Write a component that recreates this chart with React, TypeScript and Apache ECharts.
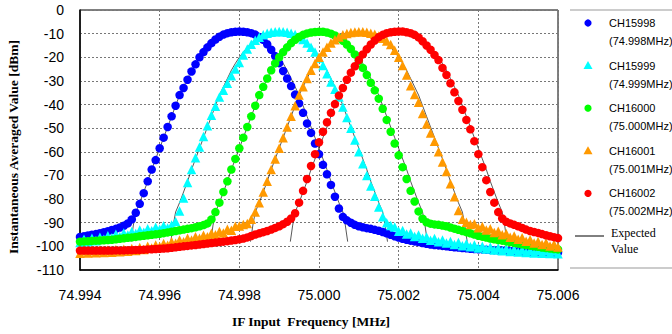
import { useEffect, useRef } from "react";
import * as echarts from "echarts";

// sample grid of the measurement (kHz)
const freqStartKHz = 74994;
const freqStepKHz = 0.1;

const channelNames = ["CH15998", "CH15999", "CH16000", "CH16001", "CH16002"];
const channelFreqLabels = ["(74.998MHz)", "(74.999MHz)", "(75.000MHz)", "(75.001MHz)", "(75.002MHz)"];
const channelCentersKHz = [74998, 74999, 75000, 75001, 75002];
const channelColors = ["#0000ff", "#00ffff", "#00ff00", "#ff9900", "#ff0000"];
const channelSymbols = ["circle", "triangle", "circle", "triangle", "circle"];

const ch15998 = [
  -96.0, -95.7, -95.4, -95.1, -94.8, -94.4, -94.0, -93.6, -93.1, -92.6,
  -92.0, -91.3, -90.3, -88.6, -85.8, -82.0, -77.5, -72.5, -67.5, -63.5,
  -58.5, -54.0, -49.5, -45.0, -40.5, -36.0, -33.0, -29.5, -26.0, -23.0,
  -20.0, -17.8, -15.8, -14.0, -12.5, -11.3, -10.4, -9.8, -9.4, -9.2,
  -9.1, -9.2, -9.4, -9.8, -10.4, -11.4, -12.6, -14.5, -16.8, -19.5,
  -22.5, -25.8, -29.0, -32.2, -35.8, -39.5, -43.5, -48.0, -52.0, -56.5,
  -61.0, -65.5, -69.5, -74.0, -79.0, -84.0, -87.5, -89.0, -90.0, -90.9,
  -91.5, -91.9, -92.3, -92.6, -93.0, -93.4, -93.9, -94.5, -95.1, -95.7,
  -96.3, -96.8, -97.2, -97.6, -97.9, -98.2, -98.6, -98.9, -99.2, -99.4,
  -99.6, -99.8, -100.0, -100.2, -100.4, -100.5, -100.7, -100.8, -101.0, -101.1,
  -101.2, -101.3, -101.4, -101.5, -101.6, -101.7, -101.8, -101.9, -102.0, -102.0,
  -102.1, -102.2, -102.2, -102.3, -102.3, -102.4, -102.4, -102.5, -102.5, -102.6,
  -102.6,
];

const ch15999 = [
  -98.4, -97.0, -98.0, -96.6, -97.6, -96.1, -97.0, -95.5, -96.4, -94.9,
  -95.8, -94.3, -95.2, -93.7, -94.6, -93.1, -94.0, -92.5, -93.4, -91.9,
  -92.8, -91.3, -92.2, -91.0, -89.5, -85.0, -79.5, -73.0, -67.5, -62.5,
  -58.0, -53.5, -49.0, -44.5, -40.7, -36.8, -34.0, -31.0, -27.8, -25.0,
  -22.2, -19.0, -16.5, -14.5, -12.8, -11.5, -10.5, -9.8, -9.4, -9.2,
  -9.1, -9.2, -9.4, -9.8, -10.4, -11.3, -12.5, -14.0, -15.8, -17.8,
  -20.3, -23.5, -27.0, -30.5, -33.5, -36.8, -41.0, -45.5, -50.0, -55.0,
  -60.0, -65.0, -70.0, -74.5, -78.8, -83.3, -87.5, -90.0, -91.2, -91.8,
  -93.6, -93.3, -94.8, -94.3, -95.8, -95.2, -96.6, -96.0, -97.4, -96.7,
  -98.0, -97.3, -98.6, -97.9, -99.2, -98.4, -99.7, -98.9, -100.2, -99.4,
  -100.7, -99.9, -101.1, -100.3, -101.5, -100.7, -101.9, -101.0, -102.2, -101.3,
  -102.4, -101.5, -102.6, -101.7, -102.8, -101.8, -102.9, -101.9, -103.0, -102.0,
  -103.1,
];

const ch16000 = [
  -98.0, -97.9, -97.8, -97.7, -97.6, -97.5, -97.4, -97.3, -97.2, -97.0,
  -96.8, -96.6, -96.4, -96.2, -96.0, -95.7, -95.5, -95.3, -95.1, -94.9,
  -94.7, -94.4, -94.1, -93.8, -93.5, -93.2, -92.9, -92.6, -92.3, -91.9,
  -91.5, -91.0, -90.3, -88.6, -85.5, -81.5, -77.0, -72.5, -67.5, -63.0,
  -58.5, -54.0, -49.5, -45.0, -40.5, -36.0, -32.5, -29.0, -25.5, -22.6,
  -20.0, -17.8, -15.8, -14.0, -12.6, -11.4, -10.5, -9.9, -9.5, -9.3,
  -9.2, -9.2, -9.5, -10.0, -10.8, -11.8, -13.0, -14.6, -16.5, -18.8,
  -21.5, -24.5, -27.5, -30.8, -34.0, -37.5, -41.8, -46.5, -51.5, -56.5,
  -61.5, -66.5, -71.5, -76.5, -81.0, -85.2, -88.3, -89.8, -90.4, -90.7,
  -90.9, -91.2, -91.5, -92.0, -92.5, -93.0, -93.5, -94.0, -94.5, -95.0,
  -95.5, -95.9, -96.3, -96.7, -97.0, -97.3, -97.6, -97.9, -98.2, -98.5,
  -98.8, -99.1, -99.4, -99.7, -100.0, -100.2, -100.5, -100.7, -100.9, -101.1,
  -101.3,
];

const ch16001 = [
  -102.9, -101.9, -102.8, -101.8, -102.7, -101.7, -102.6, -101.6, -102.5, -101.4,
  -102.3, -101.2, -102.1, -100.9, -101.7, -100.5, -101.3, -100.0, -100.7, -99.4,
  -100.1, -98.8, -99.5, -98.1, -98.7, -97.3, -98.0, -96.6, -97.3, -95.9,
  -96.6, -95.3, -95.9, -94.5, -95.1, -93.7, -94.3, -92.8, -93.2, -91.5,
  -91.4, -90.8, -90.3, -88.5, -85.5, -81.5, -77.0, -72.5, -67.5, -63.0,
  -58.5, -54.0, -49.5, -45.0, -40.5, -36.0, -32.5, -29.0, -25.5, -22.6,
  -20.0, -17.8, -15.8, -14.0, -12.6, -11.4, -10.5, -9.9, -9.5, -9.3,
  -9.2, -9.2, -9.4, -9.8, -10.3, -11.0, -11.9, -13.1, -14.6, -17.0,
  -20.0, -23.5, -27.5, -32.0, -35.8, -39.0, -43.8, -48.2, -52.0, -55.5,
  -60.0, -64.3, -68.3, -73.5, -79.0, -84.8, -88.5, -89.8, -90.8, -90.4,
  -92.1, -91.6, -93.1, -92.6, -94.1, -93.6, -95.1, -94.6, -96.1, -95.6,
  -97.0, -96.4, -97.8, -97.2, -98.6, -97.9, -99.2, -98.5, -99.8, -99.1,
  -100.3,
];

const ch16002 = [
  -101.8, -101.8, -101.8, -101.8, -101.8, -101.8, -101.8, -101.8, -101.8, -101.7,
  -101.7, -101.7, -101.6, -101.6, -101.5, -101.5, -101.4, -101.3, -101.2, -101.1,
  -101.0, -100.9, -100.8, -100.6, -100.4, -100.2, -100.0, -99.8, -99.6, -99.4,
  -99.2, -99.0, -98.8, -98.6, -98.4, -98.2, -98.0, -97.8, -97.5, -97.3,
  -97.0, -96.7, -96.2, -95.6, -95.0, -94.5, -94.0, -93.5, -92.9, -92.2,
  -91.5, -90.6, -89.6, -88.2, -86.0, -81.5, -76.5, -71.5, -66.0, -61.0,
  -56.0, -51.5, -47.5, -43.5, -39.8, -36.2, -33.0, -29.5, -26.5, -23.8,
  -21.2, -18.8, -16.6, -14.6, -12.9, -11.5, -10.5, -9.8, -9.4, -9.2,
  -9.1, -9.1, -9.4, -9.8, -10.5, -11.6, -13.2, -15.0, -16.8, -19.0,
  -21.2, -24.5, -27.5, -31.0, -34.8, -38.5, -42.2, -46.5, -50.5, -55.5,
  -61.0, -66.5, -72.0, -77.0, -81.5, -85.5, -88.2, -89.6, -90.3, -90.9,
  -91.5, -92.2, -92.9, -93.5, -93.9, -94.3, -94.8, -95.3, -95.7, -96.1,
  -96.5,
];

const channelValues = [ch15998, ch15999, ch16000, ch16001, ch16002];

// expected (theoretical) response, one side of the symmetric curve
const expectedOffsetsKHz = [
  0, 0.1, 0.2, 0.3, 0.4, 0.5, 0.6, 0.7, 0.8, 0.9, 1.0, 1.1, 1.2, 1.3,
  1.4, 1.5, 1.6, 1.7, 1.8, 1.9, 2.0, 2.1, 2.2, 2.3, 2.4, 2.5, 2.6, 2.66, 2.72,
];
const expectedValues = [
  -9.2, -9.3, -9.5, -9.9, -10.5, -11.4, -12.6, -14.0, -15.8, -17.8, -20.0, -22.6, -25.5, -29.0,
  -32.5, -36.0, -40.5, -45.0, -49.5, -54.0, -58.5, -63.0, -67.5, -72.5, -77.0, -81.5, -85.5, -91.0, -98.0,
];

const xTickLabels = ["74.994", "74.996", "74.998", "75.000", "75.002", "75.004", "75.006"];

export default function App() {
  const ref = useRef<HTMLDivElement>(null);

  useEffect(() => {
    document.body.style.margin = "0";
    if (!ref.current) return;
    const chart = echarts.init(ref.current, undefined, { renderer: "svg" });

    const scatterSeries = channelValues.map((vals, ci) => ({
      type: "scatter",
      name: channelNames[ci],
      symbol: channelSymbols[ci],
      symbolSize: channelSymbols[ci] === "circle" ? 8.5 : 9.5,
      itemStyle: { color: channelColors[ci], opacity: 1 },
      z: 3,
      data: vals.map((v, i) => [freqStartKHz + i * freqStepKHz, v]),
    }));

    const expectedSeries = channelCentersKHz.map((c, ci) => {
      const left = expectedOffsetsKHz
        .map((o, k) => [c - o, expectedValues[k]])
        .reverse();
      const right = expectedOffsetsKHz.slice(1).map((o, k) => [c + o, expectedValues[k + 1]]);
      return {
        type: "line",
        name: "Expected" + ci,
        showSymbol: false,
        silent: true,
        z: 2,
        lineStyle: { color: "#111111", width: 0.7 },
        data: [...left, ...right],
      };
    });

    const legendGraphics: any[] = [];
    const legX = 588;
    const textX = 609;
    const legFont = "11px 'Liberation Sans', Arial, sans-serif";
    channelNames.forEach((n, ci) => {
      const y = 23 + ci * 42.6;
      if (channelSymbols[ci] === "circle") {
        legendGraphics.push({
          type: "circle",
          shape: { cx: legX, cy: y, r: 3.6 },
          style: { fill: channelColors[ci] },
        });
      } else {
        legendGraphics.push({
          type: "polygon",
          shape: { points: [[legX, y - 4.5], [legX + 4.5, y + 3.5], [legX - 4.5, y + 3.5]] },
          style: { fill: channelColors[ci] },
        });
      }
      legendGraphics.push({
        type: "text",
        x: textX,
        y: y,
        style: { text: n, fill: "#000", font: legFont, textVerticalAlign: "middle" },
      });
      legendGraphics.push({
        type: "text",
        x: textX,
        y: y + 18,
        style: { text: channelFreqLabels[ci], fill: "#000", font: legFont, textVerticalAlign: "middle" },
      });
    });
    legendGraphics.push({
      type: "line",
      shape: { x1: 575, y1: 236, x2: 604, y2: 236 },
      style: { stroke: "#000", lineWidth: 1 },
    });
    legendGraphics.push({
      type: "text",
      x: 611,
      y: 233,
      style: {
        text: "Expected",
        fill: "#000",
        font: "12px 'Liberation Serif', 'Times New Roman', serif",
        textVerticalAlign: "middle",
      },
    });
    legendGraphics.push({
      type: "text",
      x: 611,
      y: 249,
      style: {
        text: "Value",
        fill: "#000",
        font: "12px 'Liberation Serif', 'Times New Roman', serif",
        textVerticalAlign: "middle",
      },
    });
    legendGraphics.push({
      type: "line",
      shape: { x1: 570, y1: 10, x2: 672, y2: 10 },
      style: { stroke: "#999", lineWidth: 1 },
    });
    legendGraphics.push({
      type: "line",
      shape: { x1: 570, y1: 268, x2: 672, y2: 268 },
      style: { stroke: "#999", lineWidth: 1 },
    });

    chart.setOption({
      animation: false,
      backgroundColor: "#ffffff",
      grid: {
        left: 80,
        top: 10,
        width: 478,
        height: 260,
        show: true,
        borderColor: "#000",
        borderWidth: 1,
        containLabel: false,
      },
      xAxis: {
        type: "value",
        min: 74994,
        max: 75006,
        interval: 2,
        axisLine: { show: true, onZero: false, lineStyle: { color: "#000", width: 1.5 } },
        axisTick: { show: false },
        axisLabel: {
          margin: 18,
          color: "#000",
          fontSize: 14,
          fontFamily: "'Liberation Sans', Arial, sans-serif",
          formatter: (v: number) => {
            const idx = Math.round((v - 74994) / 2);
            return xTickLabels[idx] ?? "";
          },
        },
        splitLine: { show: true, lineStyle: { color: "#777", type: [2, 2], width: 1 } },
      },
      yAxis: {
        type: "value",
        min: -110,
        max: 0,
        interval: 10,
        axisLine: { show: true, lineStyle: { color: "#000", width: 1.5 } },
        axisTick: { show: false },
        axisLabel: {
          margin: 16,
          color: "#000",
          fontSize: 14,
          fontFamily: "'Liberation Sans', Arial, sans-serif",
        },
        splitLine: { show: true, lineStyle: { color: "#777", type: [2, 2], width: 1 } },
      },
      graphic: [
        {
          type: "text",
          x: 13,
          y: 147,
          rotation: Math.PI / 2,
          style: {
            text: "Instantaneous Averaged Value [dBm]",
            fill: "#000",
            font: "bold 13.5px 'Liberation Serif', 'Times New Roman', serif",
            textAlign: "center",
            textVerticalAlign: "middle",
          },
        },
        {
          type: "text",
          x: 311,
          y: 321,
          style: {
            text: "IF Input  Frequency [MHz]",
            fill: "#000",
            font: "bold 13.5px 'Liberation Serif', 'Times New Roman', serif",
            textAlign: "center",
            textVerticalAlign: "middle",
          },
        },
        ...legendGraphics,
      ],
      series: [...expectedSeries, ...scatterSeries],
    });

    return () => chart.dispose();
  }, []);

  return <div ref={ref} style={{ width: 672, height: 334, position: "absolute", left: 0, top: 0 }} />;
}
